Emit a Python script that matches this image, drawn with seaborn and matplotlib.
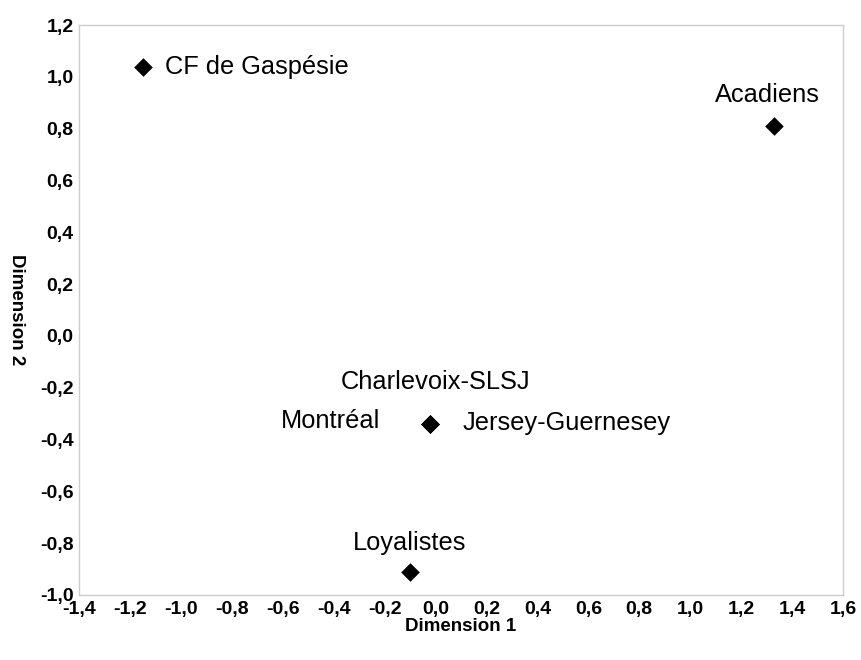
import matplotlib
matplotlib.use("Agg")
import matplotlib.pyplot as plt
import matplotlib.ticker as mticker
import seaborn as sns
import pandas as pd
import numpy as np

# data
groups = ["CF de Gaspésie", "Acadiens", "Charlevoix-SLSJ", "Montréal",
          "Jersey-Guernesey", "Loyalistes"]
dim1 = [-1.15, 1.33, -0.02, -0.02, -0.02, -0.10]
dim2 = [1.04, 0.81, -0.34, -0.34, -0.34, -0.91]

x_ticks = np.arange(-1.4, 1.61, 0.2)
y_ticks = np.arange(-1.0, 1.21, 0.2)

df = pd.DataFrame({"group": groups, "dim1": dim1, "dim2": dim2})

sns.set_style("white")
plt.rcParams["font.family"] = ["Liberation Sans", "DejaVu Sans"]
plt.rcParams["text.color"] = "black"
plt.rcParams["axes.labelcolor"] = "black"
plt.rcParams["xtick.labelcolor"] = "black"
plt.rcParams["ytick.labelcolor"] = "black"

fig = plt.figure(figsize=(8.62, 6.60), dpi=100)
ax = fig.add_axes([0.0916, 0.0985, 0.8864, 0.8635])

sns.scatterplot(data=df, x="dim1", y="dim2", marker="D", s=90,
                color="black", edgecolor="black", linewidth=0, ax=ax, zorder=3)

# label placement (offset in points, ha, va)
label_pos = {
    "CF de Gaspésie": ((16, 0), "left", "center"),
    "Acadiens": ((-5, 14), "center", "bottom"),
    "Charlevoix-SLSJ": ((4, 30), "center", "center"),
    "Montréal": ((-36, 2), "right", "center"),
    "Jersey-Guernesey": ((23, 1), "left", "center"),
    "Loyalistes": ((0, 12), "center", "bottom"),
}
for _, row in df.iterrows():
    off, ha, va = label_pos[row["group"]]
    ax.annotate(row["group"], (row["dim1"], row["dim2"]), xytext=off,
                textcoords="offset points", ha=ha, va=va, fontsize=18.3,
                color="black")

ax.set_xlim(-1.4, 1.6)
ax.set_ylim(-1.0, 1.2)
ax.set_xticks(x_ticks)
ax.set_yticks(y_ticks)
fmt = mticker.FuncFormatter(lambda v, p: f"{v:.1f}".replace(".", ",").replace("-0,0", "0,0"))
ax.xaxis.set_major_formatter(fmt)
ax.yaxis.set_major_formatter(fmt)
ax.tick_params(axis="both", labelsize=14, length=3, width=0.8, color="#c8c8c8",
               direction="in", pad=4)
for lbl in ax.get_xticklabels() + ax.get_yticklabels():
    lbl.set_fontweight("bold")

for sp in ax.spines.values():
    sp.set_color("#cccccc")
    sp.set_linewidth(1.0)

ax.set_xlabel("Dimension 1", fontsize=13.5, fontweight="bold", labelpad=0)
ax.set_ylabel("Dimension 2", fontsize=13.5, fontweight="bold", rotation=270,
              va="center")
ax.yaxis.set_label_coords(-0.082, 0.5)

fig.savefig("out.png", dpi=100)
